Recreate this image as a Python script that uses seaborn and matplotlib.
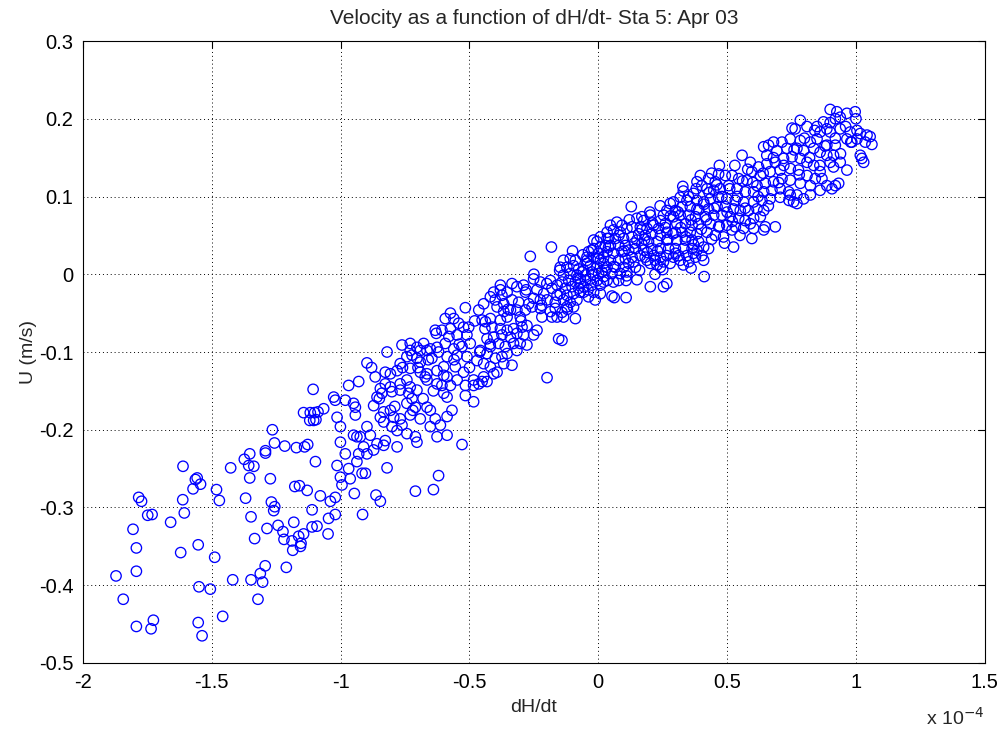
import numpy as np
import pandas as pd
import matplotlib
matplotlib.use("Agg")
import matplotlib.pyplot as plt
from matplotlib.ticker import FuncFormatter
import seaborn as sns

# dH/dt in units of 1e-4, U in m/s

# sparse tail, dH/dt < -1.15
dhdt_tail = [-1.257, -1.217, -1.292, -1.292, -1.353, -1.374, -1.357, -1.337, -1.612, -1.427,
             -1.353, -1.273, -1.564, -1.557, -1.544, -1.573, -1.482, -1.178, -1.784, -1.773,
             -1.613, -1.471, -1.369, -1.269, -1.256, -1.260, -1.749, -1.732, -1.607, -1.660,
             -1.348, -1.182, -1.243, -1.224, -1.220, -1.189, -1.186, -1.286, -1.806, -1.334,
             -1.793, -1.553, -1.621, -1.489, -1.293, -1.211, -1.793, -1.312, -1.348, -1.303,
             -1.872, -1.419, -1.550, -1.506, -1.844, -1.321, -1.458, -1.727, -1.736, -1.793,
             -1.553, -1.538]
u_tail = [-0.217, -0.221, -0.227, -0.230, -0.231, -0.238, -0.246, -0.247, -0.247, -0.249,
          -0.262, -0.263, -0.264, -0.262, -0.270, -0.276, -0.277, -0.273, -0.287, -0.292,
          -0.290, -0.291, -0.288, -0.293, -0.299, -0.304, -0.310, -0.309, -0.307, -0.319,
          -0.312, -0.319, -0.323, -0.331, -0.341, -0.343, -0.355, -0.327, -0.328, -0.340,
          -0.352, -0.348, -0.358, -0.364, -0.375, -0.377, -0.382, -0.385, -0.393, -0.396,
          -0.388, -0.393, -0.402, -0.405, -0.418, -0.418, -0.440, -0.445, -0.456, -0.453,
          -0.448, -0.465]

# dH/dt between -1.2 and -0.7 (lower part)
dhdt_low = [-1.107, -1.144, -1.118, -1.101, -1.088, -1.120, -1.105, -1.096, -1.265, -1.172,
            -1.140, -1.128, -1.098, -1.160, -1.130, -1.079, -1.040, -1.021, -1.111, -1.021,
            -1.047, -1.163, -1.154, -1.144, -1.156, -1.111, -1.092, -1.049, -0.915, -0.863,
            -0.846, -0.710, -0.947]
u_low = [-0.148, -0.178, -0.178, -0.178, -0.177, -0.188, -0.188, -0.187, -0.200, -0.223,
         -0.222, -0.219, -0.241, -0.272, -0.278, -0.285, -0.292, -0.287, -0.303, -0.309,
         -0.314, -0.337, -0.346, -0.334, -0.350, -0.325, -0.324, -0.334, -0.309, -0.284,
         -0.292, -0.279, -0.282]

# dH/dt between -1.07 and -0.42
dhdt_mid = [-0.633, -0.629, -0.626, -0.652, -0.678, -0.704, -0.730, -0.762, -0.730, -0.691,
            -0.665, -0.898, -0.769, -0.743, -0.723, -0.704, -0.691, -0.646, -0.626, -0.665,
            -0.691, -0.730, -0.781, -0.807, -0.827, -0.866, -0.930, -0.969, -0.827, -0.846,
            -0.807, -0.769, -0.743, -0.730, -0.704, -0.672, -0.665, -0.626, -1.027, -1.021,
            -0.982, -0.950, -0.943, -1.066, -0.872, -0.859, -0.840, -0.801, -0.769, -0.736,
            -0.723, -0.743, -0.710, -0.665, -0.652, -0.600, -0.587, -0.568, -0.516, -0.484,
            -0.833, -0.846, -0.807, -0.794, -0.769, -0.730, -0.691, -0.633, -0.587, -1.014,
            -0.943, -1.001, -0.924, -0.898, -0.833, -0.801, -0.781, -0.762, -0.743, -0.710,
            -0.652, -0.613, -0.587, -0.626, -0.950, -0.937, -0.885, -0.859, -0.827, -0.833,
            -0.781, -0.704, -1.001, -0.982, -0.930, -0.911, -0.898, -0.872, -0.937, -0.969,
            -1.014, -1.001, -0.963, -0.917, -0.904, -0.820, -0.620, -0.529, -0.995, -0.640,
            -0.880, -0.850, -0.820, -0.790, -0.760, -0.720, -0.700, -0.680, -0.660, -0.640,
            -0.620, -0.600, -0.580, -0.560, -0.540, -0.500, -0.480, -0.460, -0.440, -0.420]
u_mid = [-0.072, -0.076, -0.094, -0.096, -0.089, -0.094, -0.089, -0.091, -0.098, -0.098,
         -0.098, -0.114, -0.115, -0.106, -0.104, -0.108, -0.113, -0.108, -0.124, -0.128,
         -0.126, -0.121, -0.124, -0.128, -0.126, -0.132, -0.138, -0.143, -0.141, -0.147,
         -0.145, -0.141, -0.136, -0.145, -0.149, -0.132, -0.136, -0.141, -0.158, -0.162,
         -0.162, -0.166, -0.171, -0.173, -0.169, -0.158, -0.153, -0.151, -0.149, -0.153,
         -0.160, -0.166, -0.171, -0.171, -0.175, -0.153, -0.158, -0.175, -0.156, -0.164,
         -0.177, -0.184, -0.175, -0.184, -0.186, -0.181, -0.186, -0.186, -0.183, -0.184,
         -0.181, -0.196, -0.209, -0.196, -0.190, -0.196, -0.201, -0.194, -0.205, -0.209,
         -0.196, -0.194, -0.207, -0.209, -0.207, -0.209, -0.207, -0.218, -0.214, -0.220,
         -0.222, -0.216, -0.216, -0.231, -0.231, -0.222, -0.231, -0.226, -0.241, -0.250,
         -0.246, -0.261, -0.263, -0.256, -0.256, -0.249, -0.259, -0.219, -0.271, -0.277,
         -0.120, -0.160, -0.100, -0.170, -0.120, -0.175, -0.120, -0.160, -0.110, -0.150,
         -0.100, -0.130, -0.080, -0.110, -0.090, -0.120, -0.060, -0.100, -0.070, -0.090]

# dH/dt between -0.61 and -0.14
dhdt_upper = [-0.574, -0.594, -0.561, -0.607, -0.574, -0.542, -0.523, -0.503, -0.548, -0.510,
              -0.594, -0.561, -0.529, -0.497, -0.587, -0.548, -0.510, -0.600, -0.555, -0.523,
              -0.587, -0.548, -0.607, -0.574, -0.516, -0.484, -0.464, -0.451, -0.516, -0.464,
              -0.445, -0.419, -0.400, -0.406, -0.374, -0.380, -0.354, -0.335, -0.316, -0.290,
              -0.283, -0.251, -0.225, -0.186, -0.238, -0.212, -0.180, -0.160, -0.160, -0.167,
              -0.199, -0.225, -0.251, -0.270, -0.309, -0.335, -0.367, -0.393, -0.367, -0.341,
              -0.316, -0.283, -0.257, -0.225, -0.186, -0.167, -0.219, -0.303, -0.354, -0.380,
              -0.419, -0.438, -0.451, -0.413, -0.380, -0.354, -0.329, -0.296, -0.277, -0.238,
              -0.251, -0.290, -0.316, -0.341, -0.374, -0.406, -0.432, -0.419, -0.387, -0.361,
              -0.329, -0.303, -0.277, -0.316, -0.354, -0.374, -0.400, -0.432, -0.458, -0.471,
              -0.445, -0.419, -0.393, -0.367, -0.335, -0.406, -0.445, -0.432, -0.484, -0.199,
              -0.154, -0.141, -0.264, -0.182, -0.160,
              -0.380, -0.350, -0.300, -0.280, -0.250, -0.220, -0.200, -0.180]
u_upper = [-0.050, -0.057, -0.057, -0.072, -0.070, -0.063, -0.068, -0.068, -0.078, -0.078,
           -0.089, -0.096, -0.093, -0.089, -0.106, -0.104, -0.106, -0.119, -0.119, -0.126,
           -0.132, -0.136, -0.143, -0.143, -0.143, -0.143, -0.141, -0.138, -0.043, -0.046,
           -0.038, -0.029, -0.033, -0.023, -0.027, -0.014, -0.023, -0.012, -0.016, -0.014,
           -0.023, -0.006, -0.010, -0.008, -0.020, -0.025, -0.018, -0.014, -0.027, -0.036,
           -0.033, -0.033, -0.031, -0.038, -0.036, -0.033, -0.038, -0.042, -0.048, -0.046,
           -0.046, -0.046, -0.042, -0.044, -0.048, -0.044, -0.055, -0.055, -0.055, -0.059,
           -0.057, -0.061, -0.059, -0.068, -0.070, -0.072, -0.070, -0.068, -0.066, -0.072,
           -0.078, -0.078, -0.076, -0.081, -0.078, -0.081, -0.083, -0.093, -0.089, -0.093,
           -0.089, -0.089, -0.091, -0.098, -0.102, -0.106, -0.108, -0.102, -0.098, -0.111,
           -0.115, -0.119, -0.126, -0.115, -0.117, -0.128, -0.132, -0.138, -0.136, -0.133,
           -0.083, -0.085, 0.023, 0.035, -0.055,
           -0.020, -0.045, -0.060, -0.020, 0.000, -0.040, -0.012, -0.055]

# dH/dt between -0.15 and 0.42
dhdt_centre = [-0.135, -0.109, -0.089, -0.148, -0.122, -0.096, -0.076, -0.135, -0.109, -0.083,
               -0.063, -0.141, -0.115, -0.089, -0.070, -0.128, -0.102, -0.076, -0.148, -0.122,
               -0.096, -0.135, -0.109, -0.083, -0.122, -0.096, -0.141, -0.135, -0.089, -0.070,
               -0.057, -0.050, -0.044, -0.038, -0.044,
               -0.018, -0.005, 0.008, 0.034, 0.027, 0.001, -0.025, -0.018, 0.008, -0.044,
               -0.031, -0.005, 0.021, -0.025, 0.001, 0.027, -0.031, -0.005, 0.021, -0.025,
               0.008, -0.018, 0.008, -0.038, -0.012, -0.057, -0.050, -0.070, -0.057, -0.018,
               0.008,
               0.047, 0.072, 0.092, 0.034, 0.059, 0.085, 0.111, 0.040, 0.066, 0.098,
               0.047, 0.079, 0.105, 0.034, 0.059, 0.092, 0.118, 0.047, 0.079, 0.105,
               0.034, 0.066, 0.098, 0.053, 0.085, 0.111, 0.021, 0.014, 0.118, 0.131,
               0.131, 0.131, 0.150, 0.144, 0.163, 0.137, 0.144, 0.059, 0.108, 0.034,
               0.079,
               0.176, 0.202, 0.169, 0.215, 0.241, 0.163, 0.189, 0.234, 0.157, 0.182,
               0.208, 0.241, 0.169, 0.195, 0.228, 0.176, 0.208, 0.241, 0.182, 0.215,
               0.241, 0.202, 0.228, 0.241, 0.189, 0.253, 0.266, 0.279, 0.260, 0.266,
               0.266, 0.273, 0.266, 0.279, 0.253, 0.221,
               0.292, 0.318, 0.344, 0.370, 0.383, 0.299, 0.325, 0.357, 0.383, 0.292,
               0.318, 0.351, 0.377, 0.305, 0.338, 0.364, 0.389, 0.299, 0.325, 0.357,
               0.383, 0.305, 0.338, 0.364, 0.389, 0.299, 0.331, 0.364, 0.383, 0.312,
               0.344, 0.377, 0.318, 0.351, 0.370, 0.292,
               0.128, 0.202, 0.253, 0.266, 0.053, 0.062, 0.108, 0.411, 0.150, 0.383,
               0.328, 0.396,
               -0.150, -0.120, -0.100, -0.080, -0.060, -0.040, -0.020, 0.000, 0.020, 0.040,
               0.060, 0.080, 0.100, 0.120, 0.140, 0.160, 0.170, 0.190, 0.110, 0.150,
               0.180, 0.200, 0.210, 0.230, 0.240, 0.250, 0.260, 0.270, 0.280, 0.220,
               0.290, 0.300, 0.310, 0.320, 0.330, 0.340, 0.350, 0.360, 0.370, 0.380,
               0.390, 0.400, 0.330, 0.360]
u_centre = [0.018, 0.020, 0.018, 0.009, 0.009, 0.011, 0.007, -0.001, 0.001, -0.001,
            0.003, -0.010, -0.008, -0.010, -0.006, -0.018, -0.016, -0.018, -0.025, -0.027,
            -0.025, -0.033, -0.036, -0.033, -0.042, -0.042, -0.049, -0.055, -0.057, -0.023,
            -0.016, -0.008, 0.022, 0.029, 0.014,
            0.044, 0.042, 0.035, 0.046, 0.037, 0.027, 0.031, 0.022, 0.018, 0.018,
            0.011, 0.009, 0.014, 0.003, 0.001, 0.005, -0.006, -0.008, -0.003, -0.014,
            -0.014, -0.023, -0.025, -0.029, -0.033, 0.005, -0.001, -0.012, -0.023, 0.033,
            0.048,
            0.063, 0.067, 0.063, 0.054, 0.057, 0.054, 0.059, 0.046, 0.046, 0.046,
            0.037, 0.037, 0.037, 0.029, 0.027, 0.029, 0.031, 0.018, 0.018, 0.020,
            0.009, 0.009, 0.009, 0.001, 0.001, 0.003, 0.022, 0.003, 0.014, 0.022,
            0.061, 0.048, 0.044, 0.033, 0.024, 0.016, 0.009, -0.010, -0.008, -0.008,
            -0.008,
            0.069, 0.076, 0.074, 0.063, 0.069, 0.061, 0.059, 0.059, 0.052, 0.050,
            0.052, 0.050, 0.039, 0.042, 0.042, 0.031, 0.033, 0.033, 0.022, 0.024,
            0.022, 0.014, 0.012, 0.009, 0.018, 0.076, 0.082, 0.091, 0.065, 0.054,
            0.044, 0.033, 0.024, 0.014, 0.016, 0.018,
            0.093, 0.099, 0.095, 0.104, 0.095, 0.082, 0.087, 0.087, 0.084, 0.074,
            0.076, 0.076, 0.074, 0.065, 0.065, 0.063, 0.065, 0.054, 0.054, 0.054,
            0.052, 0.044, 0.044, 0.044, 0.042, 0.033, 0.033, 0.033, 0.031, 0.024,
            0.024, 0.022, 0.018, 0.016, 0.027, 0.022,
            0.087, -0.016, -0.016, -0.012, -0.028, -0.030, -0.030, -0.003, -0.007, 0.119,
            0.113, 0.127,
            0.005, -0.045, 0.030, -0.005, 0.025, -0.020, 0.000, 0.020, -0.010, 0.035,
            0.010, 0.050, 0.030, 0.070, 0.040, 0.005, 0.058, 0.028, -0.002, 0.072,
            0.045, 0.080, 0.066, 0.030, 0.088, 0.006, 0.060, 0.045, 0.075, 0.000,
            0.052, 0.027, 0.080, 0.060, 0.012, 0.048, 0.100, 0.070, 0.038, 0.110,
            0.083, 0.058, 0.107, 0.008]

# dH/dt above 0.4
dhdt_high = [0.900, 0.926, 0.939, 0.965, 0.997, 0.920, 0.784, 0.764, 0.752, 0.810,
             0.849, 0.874, 0.887, 0.861, 0.900, 0.939, 0.978, 1.004, 1.017, 1.043,
             1.055, 1.062, 1.036, 1.004, 0.984, 0.965, 1.023, 1.030, 1.017, 0.965,
             0.939, 0.913, 0.920, 0.887, 0.849, 0.823, 0.784, 0.745, 0.713, 0.680,
             0.661, 0.642, 0.654, 0.693, 0.732, 0.771, 0.797, 0.836, 0.861, 0.887,
             0.900, 0.913, 0.861, 0.836, 0.810, 0.784, 0.752, 0.719, 0.687, 0.654,
             0.622, 0.590, 0.558, 0.596, 0.629, 0.667, 0.706, 0.745, 0.777, 0.810,
             0.842, 0.868, 0.823, 0.784, 0.745, 0.713, 0.680, 0.648, 0.616, 0.577,
             0.545, 0.519, 0.493, 0.467, 0.454, 0.428, 0.422, 0.448, 0.473, 0.506,
             0.538, 0.570, 0.603, 0.642, 0.674, 0.706, 0.739, 0.771, 0.797, 0.823,
             0.861, 0.887, 0.920, 0.933, 0.907, 0.745, 0.706, 0.667, 0.635, 0.603,
             0.564, 0.532, 0.499, 0.467, 0.435, 0.428, 0.461, 0.493, 0.525, 0.551,
             0.583, 0.616, 0.642, 0.771, 0.758, 0.415, 0.448, 0.480, 0.512, 0.545,
             0.570, 0.603, 0.629, 0.648, 0.642, 0.687, 0.603, 0.564, 0.532, 0.499,
             0.467, 0.435, 0.422, 0.454, 0.486, 0.519, 0.596, 0.525, 0.428, 0.402,
             0.409, 0.409, 0.402, 0.409,
             0.410, 0.420, 0.430, 0.440, 0.450, 0.460, 0.470, 0.480, 0.490, 0.500,
             0.440, 0.470, 0.510, 0.520, 0.530, 0.540, 0.550, 0.560, 0.570, 0.580,
             0.590, 0.600, 0.620, 0.640, 0.660, 0.680, 0.700, 0.720, 0.740, 0.760,
             0.780, 0.800, 0.820, 0.840, 0.860, 0.880, 0.900, 0.920, 0.940, 0.960,
             0.980, 1.000]
u_high = [0.212, 0.209, 0.202, 0.207, 0.209, 0.200, 0.198, 0.187, 0.188, 0.190,
          0.190, 0.196, 0.187, 0.183, 0.183, 0.187, 0.183, 0.185, 0.181, 0.179,
          0.177, 0.167, 0.170, 0.174, 0.170, 0.174, 0.149, 0.144, 0.153, 0.134,
          0.144, 0.153, 0.166, 0.166, 0.174, 0.170, 0.172, 0.174, 0.170, 0.170,
          0.166, 0.164, 0.153, 0.159, 0.162, 0.162, 0.159, 0.162, 0.157, 0.153,
          0.144, 0.138, 0.132, 0.140, 0.144, 0.149, 0.151, 0.149, 0.144, 0.142,
          0.138, 0.144, 0.153, 0.132, 0.127, 0.132, 0.134, 0.136, 0.134, 0.127,
          0.123, 0.123, 0.114, 0.117, 0.121, 0.123, 0.119, 0.117, 0.114, 0.121,
          0.123, 0.127, 0.127, 0.129, 0.119, 0.123, 0.110, 0.108, 0.110, 0.114,
          0.110, 0.106, 0.106, 0.106, 0.108, 0.110, 0.106, 0.102, 0.097, 0.102,
          0.108, 0.114, 0.114, 0.117, 0.110, 0.102, 0.099, 0.097, 0.095, 0.093,
          0.093, 0.095, 0.097, 0.099, 0.097, 0.084, 0.087, 0.087, 0.084, 0.082,
          0.082, 0.084, 0.082, 0.091, 0.093, 0.074, 0.076, 0.076, 0.074, 0.072,
          0.069, 0.072, 0.074, 0.061, 0.057, 0.061, 0.059, 0.059, 0.061, 0.063,
          0.061, 0.065, 0.054, 0.050, 0.048, 0.057, 0.046, 0.035, 0.033, 0.024,
          0.018, 0.035, 0.114, 0.093,
          0.090, 0.070, 0.105, 0.045, 0.085, 0.115, 0.062, 0.100, 0.040, 0.080,
          0.130, 0.140, 0.110, 0.068, 0.140, 0.100, 0.050, 0.120, 0.085, 0.135,
          0.065, 0.118, 0.100, 0.130, 0.088, 0.150, 0.118, 0.140, 0.095, 0.160,
          0.128, 0.175, 0.150, 0.185, 0.140, 0.165, 0.195, 0.175, 0.155, 0.190,
          0.170, 0.200]

df = pd.DataFrame({
    "dhdt": dhdt_tail + dhdt_low + dhdt_mid + dhdt_upper + dhdt_centre + dhdt_high,
    "u": u_tail + u_low + u_mid + u_upper + u_centre + u_high,
})

x_ticks = [-2, -1.5, -1, -0.5, 0, 0.5, 1, 1.5]
y_ticks = [-0.5, -0.4, -0.3, -0.2, -0.1, 0, 0.1, 0.2, 0.3]

sns.set_style("white")
plt.rcParams['font.family'] = ['Liberation Sans', 'DejaVu Sans']

fig = plt.figure(figsize=(10.03, 7.30), dpi=100)
ax = fig.add_axes([0.0828, 0.0918, 0.899, 0.852])

sns.scatterplot(data=df, x="dhdt", y="u", ax=ax, marker="o", s=56,
                facecolors="none", edgecolor="#0000ff", color="#0000ff", linewidth=0.95)

ax.set_xlim(-2, 1.5)
ax.set_ylim(-0.5, 0.3)
ax.set_xticks(x_ticks)
ax.set_yticks(y_ticks)
fmt = FuncFormatter(lambda v, p: "%g" % v)
ax.xaxis.set_major_formatter(fmt)
ax.yaxis.set_major_formatter(fmt)

ax.grid(True, linestyle=(0, (1, 3)), color="black", linewidth=0.7)
ax.set_axisbelow(True)
for sp in ax.spines.values():
    sp.set_color("black")
    sp.set_linewidth(0.8)
ax.tick_params(direction="in", length=5, width=0.8, top=True, right=True,
               labelsize=14.5, colors="black", pad=7)

ax.set_xlabel("dH/dt", fontsize=14, labelpad=5)
ax.set_ylabel("U (m/s)", fontsize=14, labelpad=1)
ax.set_title("Velocity as a function of dH/dt- Sta 5: Apr 03", fontsize=15, pad=12)
ax.text(1.0, -0.088, r"x 10$^{-4}$", transform=ax.transAxes, ha="right", va="center",
        fontsize=14)

fig.savefig("out.png", dpi=100, facecolor="white")
